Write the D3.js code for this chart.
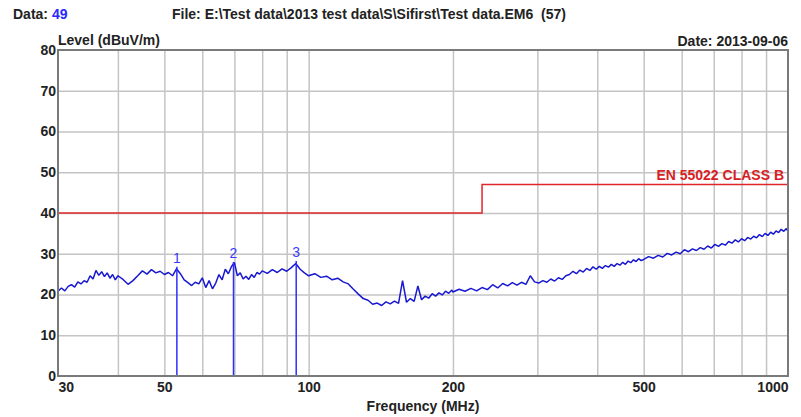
<!DOCTYPE html>
<html>
<head>
<meta charset="utf-8">
<script src="https://cdn.jsdelivr.net/npm/d3@7"></script>
<style>
  body { margin: 0; background: #fff; }
  text { font-family: "Liberation Sans", Arial, sans-serif; font-weight: bold; font-size: 14px; }
</style>
</head>
<body>
<div id="chart"></div>
<script>
// measured trace (MHz / dBuV/m)
var freqs = [30,30.5,31,31.5,32,32.5,33,33.5,34,34.5,35,35.5,36,36.5,37,37.5,38,38.5,39,39.5,
  40,41,42,43,44,45,46,47,48,49,50,51,52,53,54,55,56,57,58,59,
  60,61,62,63,64,65,66,67,68,69,70,71,72,73,74,75,76,77,78,79,
  80,82,84,86,88,90,92,94,96,98,
  100,103,106,109,112,115,118,121,124,127,130,133,136,139,142,145,148,151,154,157,160,163,166,169,172,175,178,181,184,187,190,193,196,199,
  200,206,212,218,224,230,236,242,248,254,260,266,272,278,284,290,296,302,308,314,320,326,332,338,344,350,356,362,368,374,380,386,392,398,404,410,416,422,428,434,440,446,452,458,464,470,476,482,488,494,
  500,512,524,536,548,560,572,584,596,608,620,632,644,656,668,680,692,704,716,728,740,752,764,776,788,800,812,824,836,848,860,872,884,896,908,920,932,944,956,968,980,992,1000];
var levels = [20.8,21.6,20.9,22.0,22.4,21.8,23.1,22.6,23.4,23.0,24.6,23.8,25.9,24.7,25.6,24.4,25.3,24.0,24.9,23.6,
  24.6,23.7,22.5,23.4,24.6,25.8,25.0,26.1,25.3,25.7,24.9,25.4,24.6,26.3,25.1,23.6,22.9,22.2,23.0,22.6,
  24.1,21.7,23.4,21.4,22.8,24.9,23.6,26.2,25.1,26.8,27.9,24.6,25.3,23.8,24.5,23.7,24.9,24.2,25.4,25.0,
  25.8,25.2,26.1,25.4,26.3,25.7,26.6,27.6,26.2,25.3,
  24.6,25.1,24.2,24.5,23.6,24.0,23.1,22.6,21.3,20.1,19.0,18.6,17.6,17.9,17.3,18.2,17.7,18.4,17.8,23.4,18.1,19.0,18.3,22.1,18.7,19.6,19.1,20.2,19.6,20.4,19.9,20.8,20.3,21.1,
  20.6,21.3,20.8,21.5,20.9,21.7,21.2,22.4,21.6,22.7,22.1,22.9,22.3,23.0,22.5,24.6,23.1,22.8,23.4,23.0,23.8,23.3,24.1,23.7,24.6,24.9,25.7,25.1,26.0,25.5,26.4,25.9,26.8,26.2,26.9,26.4,27.1,26.7,27.4,26.9,27.6,27.2,27.9,27.4,28.2,27.8,28.5,28.1,28.8,28.3,
  28.6,29.3,28.9,29.6,29.2,30.1,29.7,30.4,30.0,31.0,30.5,31.2,30.8,31.5,31.1,31.9,31.4,32.3,31.8,32.5,32.1,33.0,32.6,33.4,32.9,33.7,33.2,34.0,33.6,34.3,33.9,34.7,34.2,35.0,34.5,35.3,34.8,35.6,35.2,36.0,35.5,36.2,35.4];

var limitFreqs = [30, 230, 230, 1000];
var limitLevels = [40, 40, 47, 47];

var markerNames = ["1", "2", "3"];
var markerFreqs = [53.1, 69.7, 94.2];
var markerLevels = [26.8, 28.0, 28.2];

var xGridTicks = [40,50,60,70,80,90,100,200,300,400,500,600,700,800,900];
var xLabelTicks = [30,50,100,200,500,1000];
var yTicks = [0,10,20,30,40,50,60,70,80];

var width = 801, height = 417;
var margin = {top: 50, right: 13, bottom: 41, left: 58};
var svg = d3.select("#chart").append("svg").attr("width", width).attr("height", height);

var x = d3.scaleLog().domain([30, 1000]).range([margin.left, width - margin.right]);
var y = d3.scaleLinear().domain([0, 80]).range([height - margin.bottom, margin.top]);

// grid
svg.append("g")
  .attr("transform", "translate(0," + y(0) + ")")
  .call(d3.axisBottom(x).tickValues(xGridTicks).tickSize(-(y(0) - y(80))).tickFormat(""))
  .call(g => g.select(".domain").remove())
  .selectAll("line").attr("stroke", "#c4c4c4").attr("stroke-width", 1.5);

svg.append("g")
  .attr("transform", "translate(" + x(30) + ",0)")
  .call(d3.axisLeft(y).tickValues(yTicks.slice(1, -1)).tickSize(-(x(1000) - x(30))).tickFormat(""))
  .call(g => g.select(".domain").remove())
  .selectAll("line").attr("stroke", "#c4c4c4").attr("stroke-width", 1.5);

// tick labels
var yAx = svg.append("g")
  .attr("transform", "translate(" + x(30) + ",0)")
  .call(d3.axisLeft(y).tickValues(yTicks).tickSize(0).tickPadding(2));
yAx.select(".domain").remove();
yAx.selectAll("text").attr("fill", "#222").style("font-size", "14px").style("font-family", "'Liberation Sans', Arial, sans-serif");

var xAx = svg.append("g")
  .attr("transform", "translate(0," + y(0) + ")")
  .call(d3.axisBottom(x).tickValues(xLabelTicks).tickSize(0).tickPadding(6).tickFormat(d3.format("d")));
xAx.select(".domain").remove();
xAx.selectAll("text").attr("fill", "#222").style("font-size", "14px").style("font-family", "'Liberation Sans', Arial, sans-serif")
  .attr("text-anchor", function(d, i) { return i == 0 ? "start" : (i == xLabelTicks.length - 1 ? "end" : "middle"); });

// limit line
var limitData = limitFreqs.map(function(f, i) { return {f: f, v: limitLevels[i]}; });
svg.append("path").datum(limitData)
  .attr("fill", "none").attr("stroke", "#e0262a").attr("stroke-width", 1.5)
  .attr("d", d3.line().x(d => x(d.f)).y(d => y(d.v)));

svg.append("text").attr("x", x(1000) - 4).attr("y", y(47) - 4)
  .attr("text-anchor", "end").attr("fill", "#d81e25").text("EN 55022 CLASS B");

// trace
var trace = freqs.map(function(f, i) { return {f: f, v: levels[i]}; });
svg.append("path").datum(trace)
  .attr("fill", "none").attr("stroke", "#1818d0").attr("stroke-width", 1.5)
  .attr("stroke-linejoin", "bevel")
  .attr("d", d3.line().x(d => x(d.f)).y(d => y(d.v)));

// markers
markerFreqs.forEach(function(f, i) {
  svg.append("line").attr("x1", x(f)).attr("x2", x(f)).attr("y1", y(0)).attr("y2", y(markerLevels[i]))
    .attr("stroke", "#2e2eff").attr("stroke-width", 1.5);
  svg.append("text").attr("x", x(f)).attr("y", y(markerLevels[i]) - 4)
    .attr("text-anchor", "middle").attr("fill", "#3a3aff").style("font-weight", "normal")
    .text(markerNames[i]);
});

// frame
svg.append("rect").attr("x", x(30)).attr("y", y(80)).attr("width", x(1000) - x(30)).attr("height", y(0) - y(80))
  .attr("fill", "none").attr("stroke", "#7a7a7a").attr("stroke-width", 2);

// titles
var dataT = svg.append("text").attr("x", 13).attr("y", 19).attr("fill", "#222");
dataT.append("tspan").text("Data: ");
dataT.append("tspan").attr("fill", "#2a2aff").text("49");
svg.append("text").attr("x", 172).attr("y", 19).attr("fill", "#222")
  .attr("xml:space", "preserve").style("white-space", "pre")
  .text("File: E:\\Test data\\2013 test data\\S\\Sifirst\\Test data.EM6  (57)");
svg.append("text").attr("x", x(30)).attr("y", 45).attr("fill", "#222").text("Level (dBuV/m)");
svg.append("text").attr("x", x(1000)).attr("y", 46).attr("text-anchor", "end").attr("fill", "#222").text("Date: 2013-09-06");
svg.append("text").attr("x", (x(30) + x(1000)) / 2).attr("y", 411).attr("text-anchor", "middle").attr("fill", "#222").text("Frequency (MHz)");
</script>
</body>
</html>
